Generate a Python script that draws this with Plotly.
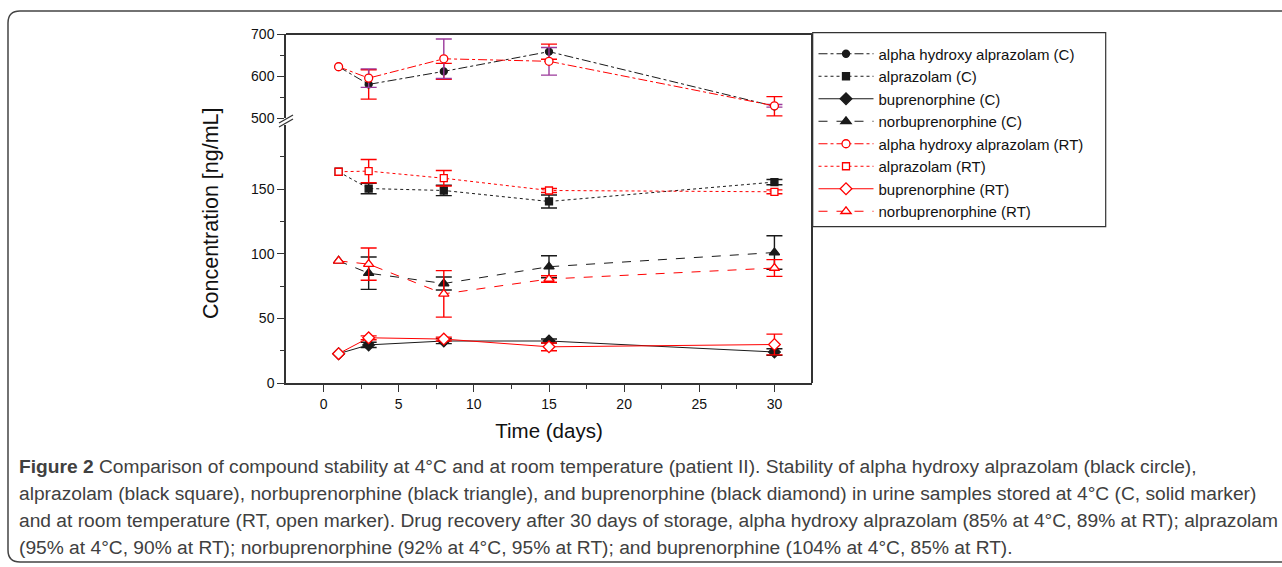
import numpy as np
import plotly.graph_objects as go

# ---------------- data ----------------
days = [1, 3, 8, 15, 30]

aha_c = [622, 580, 611, 658, 528]
aha_c_err = [None, 35, 19, 18, 23]
aha_rt = [622, 595, 641, 635, 529]
aha_rt_err = [None, 22, 47, 33, 3]

alp_c = [163.5, 150.5, 149, 140.5, 155.5]
alp_c_err = [None, 4, 4, 5, 2]
alp_rt = [163.5, 164, 158.5, 149, 148]
alp_rt_err = [None, 9, 6, 1.5, 1.5]

bup_c = [22.7, 29.5, 32.5, 32.5, 24]
bup_c_err = [None, 2, 2, 1.5, 2.5]
bup_rt = [22.7, 35, 34, 28, 29.8]
bup_rt_err = [None, 1.5, 1.5, 3, 8]

nor_c = [94.5, 85, 77, 90, 101]
nor_c_err = [None, 12.5, 5, 8.5, 13]
nor_rt = [94.5, 92, 69, 80.5, 89]
nor_rt_err = [None, 12.5, 18, 2.5, 6.5]

x_ticks = [0, 5, 10, 15, 20, 25, 30]
y_low_ticks = [0, 50, 100, 150]
y_high_ticks = [500, 600, 700]

caption_lines = [
    "<b>Figure 2</b> Comparison of compound stability at 4°C and at room temperature (patient II). Stability of alpha hydroxy alprazolam (black circle),",
    "alprazolam (black square), norbuprenorphine (black triangle), and buprenorphine (black diamond) in urine samples stored at 4°C (C, solid marker)",
    "and at room temperature (RT, open marker). Drug recovery after 30 days of storage, alpha hydroxy alprazolam (85% at 4°C, 89% at RT); alprazolam",
    "(95% at 4°C, 90% at RT); norbuprenorphine (92% at 4°C, 95% at RT); and buprenorphine (104% at 4°C, 85% at RT).",
]

# ---------------- style ----------------
BLACK = "#1a1a1a"
RED = "#ff0000"
PURPLE = "#9b3a9b"
AX = "#333333"
FONT = "Liberation Sans, Arial, sans-serif"

L, R, T, B = 286, 812, 34, 383
W, H = R - L, B - T


def px(xp):
    return (xp - L) / W


def py(yp):
    return (B - yp) / H


def err(a):
    return np.array([np.nan if v is None else v for v in a], dtype=float)


fig = go.Figure()

series = [
    ("alpha hydroxy alprazolam (C)", aha_c, aha_c_err, "y2", "dashdot", "circle", 7, BLACK, BLACK, RED),
    ("alprazolam (C)", alp_c, alp_c_err, "y", "dot", "square", 7, BLACK, BLACK, BLACK),
    ("buprenorphine (C)", bup_c, bup_c_err, "y", "solid", "diamond", 9, BLACK, BLACK, BLACK),
    ("norbuprenorphine (C)", nor_c, nor_c_err, "y", "dash", "triangle-up", 9, BLACK, BLACK, BLACK),
    ("alpha hydroxy alprazolam (RT)", aha_rt, aha_rt_err, "y2", "dashdot", "circle", 8, RED, "white", PURPLE),
    ("alprazolam (RT)", alp_rt, alp_rt_err, "y", "dot", "square", 7, RED, "white", RED),
    ("buprenorphine (RT)", bup_rt, bup_rt_err, "y", "solid", "diamond", 9, RED, "white", RED),
    ("norbuprenorphine (RT)", nor_rt, nor_rt_err, "y", "dash", "triangle-up", 9, RED, "white", RED),
]

for name, vals, errs, yax, dash, sym, size, lc, fc, ec in series:
    fig.add_trace(go.Scatter(
        x=days, y=vals, name=name, yaxis=yax, mode="lines+markers",
        line=dict(color=lc, width=1, dash=dash),
        marker=dict(symbol=sym, size=size, color=fc, line=dict(color=lc, width=1.3)),
        error_y=dict(type="data", array=err(errs), color=ec, thickness=1.4, width=8),
    ))

axis_common = dict(
    showline=True, linecolor=AX, linewidth=1.5, ticks="outside", tickcolor=AX,
    tickwidth=1.2, ticklen=7, showgrid=False, zeroline=False,
    tickfont=dict(family=FONT, size=14, color="#111"),
)

fig.update_layout(
    width=1282, height=567,
    margin=dict(l=L, r=1282 - R, t=T, b=567 - B),
    paper_bgcolor="white", plot_bgcolor="white",
    showlegend=True,
    xaxis=dict(
        range=[-2.5, 32.5], tickvals=x_ticks, **axis_common,
        minor=dict(tickvals=[2.5, 7.5, 12.5, 17.5, 22.5, 27.5], ticks="outside", ticklen=4, tickcolor=AX, tickwidth=1.2),
        title=dict(text="Time (days)", font=dict(family=FONT, size=20.5, color="#111"), standoff=13),
    ),
    yaxis=dict(
        domain=[0, (B - 124.6) / H], range=[0, 200], tickvals=y_low_ticks, **axis_common,
        minor=dict(tickvals=[25, 75, 125, 175], ticks="outside", ticklen=4, tickcolor=AX, tickwidth=1.2),
    ),
    yaxis2=dict(
        domain=[(B - 118) / H, 1], range=[500, 700], tickvals=y_high_ticks, anchor="x", **axis_common,
        minor=dict(tickvals=[550, 650], ticks="outside", ticklen=4, tickcolor=AX, tickwidth=1.2),
    ),
    legend=dict(
        x=px(813.5), y=py(37.5), xanchor="left", yanchor="top",
        borderwidth=0, bgcolor="rgba(0,0,0,0)",
        font=dict(family=FONT, size=15, color="#111"),
        tracegroupgap=0, itemwidth=55,
    ),
)

# legend box
fig.add_shape(type="rect", xref="paper", yref="paper", layer="below",
              x0=px(812.7), x1=px(1105.7), y0=py(226.7), y1=py(32.7),
              line=dict(color=AX, width=1.2), fillcolor="white")

# frame top and right
fig.add_shape(type="line", xref="paper", yref="paper", x0=0, x1=1, y0=1, y1=1, line=dict(color=AX, width=1.8))
fig.add_shape(type="line", xref="paper", yref="paper", x0=1, x1=1, y0=0, y1=1, line=dict(color=AX, width=2))

# axis break marks
for off in (0, 4):
    fig.add_shape(type="line", xref="paper", yref="paper",
                  x0=px(279), y0=py(123 + off), x1=px(293), y1=py(115 + off),
                  line=dict(color=AX, width=1.3))

# y-axis title spanning both segments
fig.add_annotation(text="Concentration [ng/mL]", xref="paper", yref="paper",
                   x=px(197), y=py(213), showarrow=False, textangle=-90,
                   font=dict(family=FONT, size=21.5, color="#111"))

# rounded outer frame
fl, ft, fr, fb, rr = 8, 11, 1300, 562, 12


def P(a, b):
    return f"{px(a):.5f},{py(b):.5f}"


path = (f"M {P(fr, ft)} L {P(fl + rr, ft)} Q {P(fl, ft)} {P(fl, ft + rr)} "
        f"L {P(fl, fb - rr)} Q {P(fl, fb)} {P(fl + rr, fb)} L {P(fr, fb)}")
fig.add_shape(type="path", xref="paper", yref="paper", path=path, line=dict(color="#444", width=1.5))

# caption
cap_y = [466, 493, 520, 547]
for txt, yy in zip(caption_lines, cap_y):
    fig.add_annotation(text=txt, xref="paper", yref="paper", x=px(17), y=py(yy),
                       xanchor="left", yanchor="middle", showarrow=False,
                       font=dict(family=FONT, size=19.2, color="#404040"))

fig.write_html("out.html")
